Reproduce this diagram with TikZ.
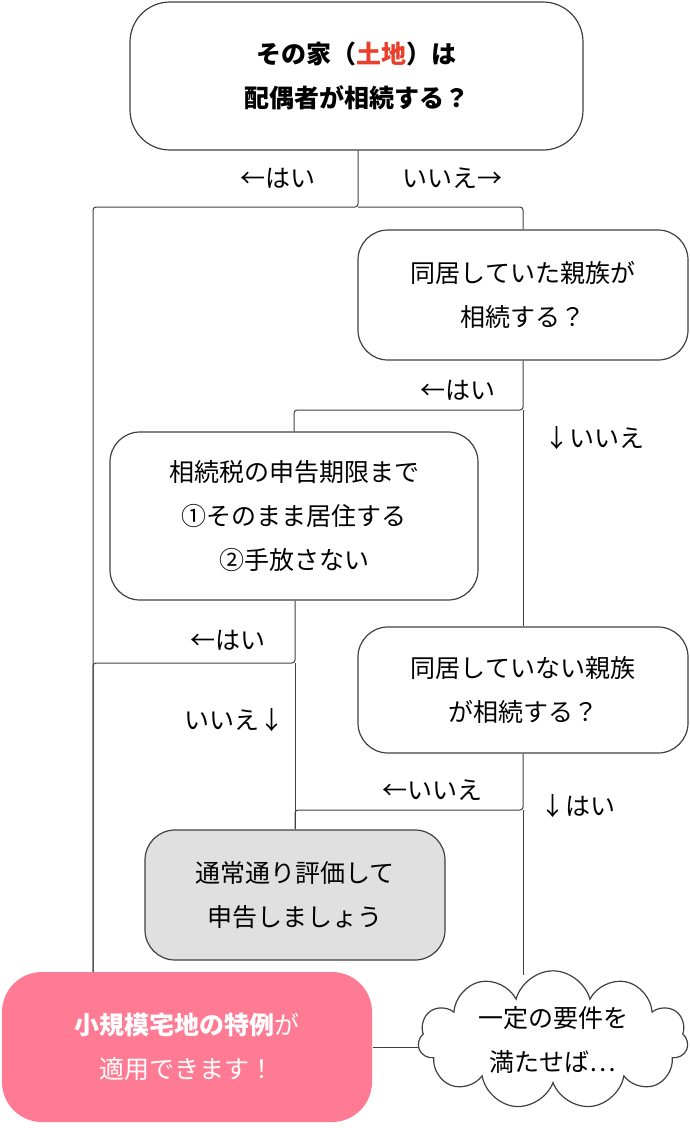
\documentclass[tikz,border=0pt]{standalone}
\usepackage{fontspec}
\setmainfont{Noto Sans CJK JP}
\usetikzlibrary{shapes.symbols}
\definecolor{pinkbox}{HTML}{FF7B93}
\definecolor{redtext}{HTML}{E8402A}
\definecolor{graybox}{HTML}{E0E0E0}
\definecolor{edgegray}{HTML}{404040}

\begin{document}
\begin{tikzpicture}[x=1pt,y=-1pt,
    line width=1.2pt,
    every node/.style={font=\fontsize{25}{44}\selectfont},
    question/.style={draw=edgegray,rounded corners=30pt,align=center,fill=white,inner sep=0pt},
    result/.style={question,fill=graybox},
    special/.style={rounded corners=40pt,fill=pinkbox,text=white,align=center,inner sep=0pt},
    flow/.style={draw=edgegray,line width=1pt,rounded corners=3pt},
    answer/.style={inner sep=0pt}]

  \useasboundingbox (0,0) rectangle (690,1128);

  \node[question,rounded corners=40pt,minimum width=453pt,minimum height=148pt] (spouse) at (356.5,76)
    {\bfseries その家（\textcolor{redtext}{土地}）は\\\bfseries 配偶者が相続する？};
  \node[question,minimum width=330pt,minimum height=130pt] (cohab) at (523,295)
    {同居していた親族が\\相続する？};
  \node[question,minimum width=368pt,minimum height=168pt] (keep) at (294,516)
    {相続税の申告期限まで\\①そのまま居住する\\②手放さない};
  \node[question,minimum width=330pt,minimum height=126pt] (noncohab) at (523,690)
    {同居していない親族\\が相続する？};
  \node[result,minimum width=300pt,minimum height=130pt] (normal) at (295,895)
    {通常通り評価して\\申告しましょう};
  \node[special,minimum width=370pt,minimum height=150pt] (rule) at (187,1047)
    {\bfseries 小規模宅地の特例\mdseries が\\適用できます！};
  \node[cloud,draw=edgegray,fill=white,cloud puffs=11,aspect=2.2,
        minimum width=270pt,minimum height=125pt,align=center,inner sep=0pt] (cond) at (553,1040)
    {一定の要件を\\満たせば…};

  % junctions
  \coordinate (j1) at (358,207);
  \coordinate (j2) at (523,410);
  \coordinate (j3) at (295,663);
  \coordinate (j4) at (523,810);
  \coordinate (c1) at (523,975);

  \draw[flow] (spouse.south -| j1) -- (j1) -| (93,972);
  \draw[flow] (j1) -| (cohab.north);
  \draw[flow] (cohab.south) -- (j2) -| (keep.north);
  \draw[flow] (j2) -- (noncohab.north);
  \draw[flow] (keep.south -| j3) -- (j3) -| (93,972);
  \draw[flow] (j3) -- (normal.north);
  \draw[flow] (noncohab.south) -- (j4) -| (normal.north);
  \draw[flow] (j4) -- (c1);
  \draw[flow] (rule.east) -- (rule.east -| cond.west);

  \node[answer] (a1) at (278,178) {←はい};
  \node[answer] (a2) at (452,178) {いいえ→};
  \node[answer] (a3) at (458,390) {←はい};
  \node[answer] (a4) at (594,438) {↓いいえ};
  \node[answer] (a5) at (228,640) {←はい};
  \node[answer] (a6) at (234,720) {いいえ↓};
  \node[answer] (a7) at (432,790) {←いいえ};
  \node[answer] (a8) at (578,806) {↓はい};
\end{tikzpicture}
\end{document}
